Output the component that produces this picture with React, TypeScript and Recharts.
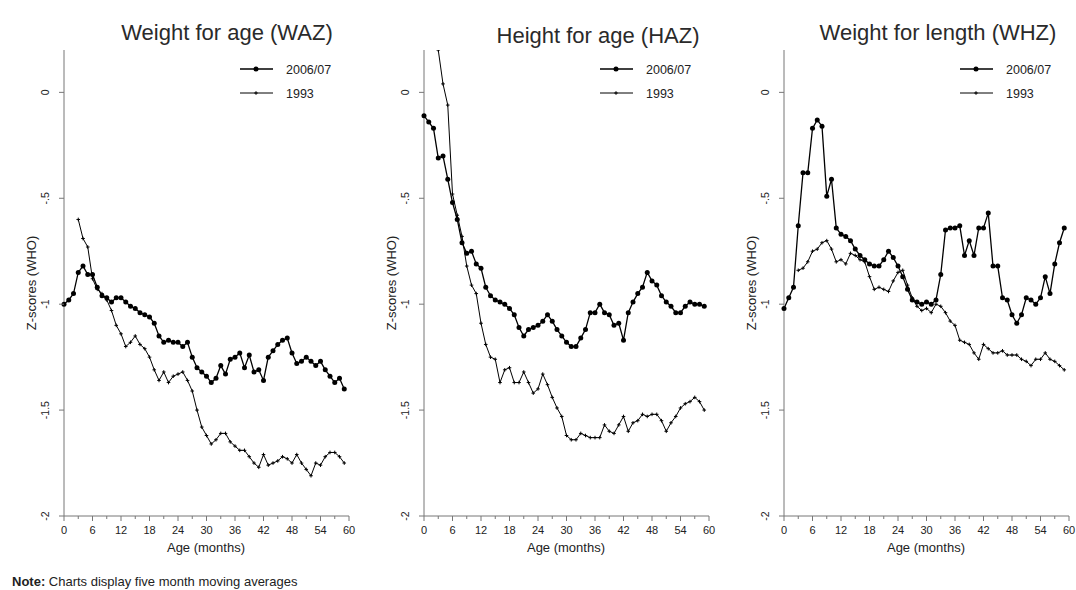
import React from 'react'
import { LineChart, Line, XAxis, YAxis } from 'recharts'

// age in months
const AGES = [
  0, 1, 2, 3, 4, 5, 6, 7, 8, 9, 10, 11, 12, 13, 14, 15, 16, 17, 18, 19,
  20, 21, 22, 23, 24, 25, 26, 27, 28, 29, 30, 31, 32, 33, 34, 35, 36, 37, 38, 39,
  40, 41, 42, 43, 44, 45, 46, 47, 48, 49, 50, 51, 52, 53, 54, 55, 56, 57, 58, 59,
]

const WAZ_2006 = [
  -1.0, -0.98, -0.95, -0.85, -0.82, -0.86, -0.86, -0.92, -0.96, -0.97,
  -0.99, -0.97, -0.97, -0.99, -1.01, -1.02, -1.04, -1.05, -1.06, -1.09,
  -1.15, -1.18, -1.17, -1.18, -1.18, -1.2, -1.18, -1.25, -1.3, -1.32,
  -1.34, -1.37, -1.35, -1.29, -1.33, -1.26, -1.25, -1.23, -1.3, -1.24,
  -1.32, -1.31, -1.36, -1.25, -1.22, -1.19, -1.17, -1.16, -1.23, -1.28,
  -1.27, -1.25, -1.27, -1.29, -1.27, -1.31, -1.34, -1.37, -1.35, -1.4,
]
const WAZ_1993 = [
  null, null, null, -0.6, -0.69, -0.73, -0.88, -0.93, -0.95, -0.98,
  -1.03, -1.1, -1.14, -1.2, -1.18, -1.15, -1.19, -1.21, -1.25, -1.31,
  -1.36, -1.32, -1.37, -1.34, -1.33, -1.32, -1.36, -1.41, -1.5, -1.58,
  -1.62, -1.66, -1.64, -1.61, -1.61, -1.65, -1.67, -1.69, -1.69, -1.72,
  -1.75, -1.77, -1.71, -1.76, -1.75, -1.74, -1.72, -1.73, -1.75, -1.71,
  -1.75, -1.78, -1.81, -1.75, -1.76, -1.72, -1.7, -1.7, -1.72, -1.75,
]

const HAZ_2006 = [
  -0.11, -0.14, -0.17, -0.31, -0.3, -0.41, -0.52, -0.6, -0.71, -0.76,
  -0.75, -0.81, -0.83, -0.92, -0.96, -0.98, -0.99, -1.0, -1.02, -1.05,
  -1.11, -1.15, -1.12, -1.11, -1.1, -1.08, -1.05, -1.08, -1.12, -1.15,
  -1.18, -1.2, -1.2, -1.16, -1.12, -1.04, -1.04, -1.0, -1.04, -1.05,
  -1.1, -1.09, -1.17, -1.04, -0.99, -0.95, -0.92, -0.85, -0.89, -0.91,
  -0.96, -0.99, -1.01, -1.04, -1.04, -1.01, -0.99, -1.0, -1.0, -1.01,
]
const HAZ_1993 = [
  null, null, null, 0.2, 0.04, -0.06, -0.48, -0.58, -0.68, -0.82,
  -0.91, -0.95, -1.09, -1.19, -1.25, -1.26, -1.37, -1.31, -1.3, -1.37,
  -1.37, -1.32, -1.37, -1.42, -1.4, -1.33, -1.38, -1.44, -1.49, -1.53,
  -1.62, -1.64, -1.64, -1.61, -1.62, -1.63, -1.63, -1.63, -1.57, -1.6,
  -1.61, -1.57, -1.53, -1.6, -1.56, -1.55, -1.52, -1.53, -1.52, -1.52,
  -1.55, -1.6, -1.56, -1.53, -1.49, -1.47, -1.46, -1.44, -1.46, -1.5,
]

const WHZ_2006 = [
  -1.02, -0.97, -0.92, -0.63, -0.38, -0.38, -0.17, -0.13, -0.16, -0.49,
  -0.41, -0.64, -0.67, -0.68, -0.7, -0.74, -0.77, -0.79, -0.81, -0.82,
  -0.82, -0.79, -0.75, -0.78, -0.82, -0.87, -0.93, -0.98, -0.99, -1.0,
  -0.99, -1.0, -0.98, -0.86, -0.65, -0.64, -0.64, -0.63, -0.77, -0.7,
  -0.77, -0.64, -0.64, -0.57, -0.82, -0.82, -0.97, -0.98, -1.05, -1.09,
  -1.05, -0.97, -0.98, -1.0, -0.97, -0.87, -0.95, -0.81, -0.71, -0.64,
]
const WHZ_1993 = [
  null, null, null, -0.84, -0.83, -0.8, -0.75, -0.74, -0.71, -0.7,
  -0.74, -0.8, -0.79, -0.81, -0.76, -0.77, -0.79, -0.8, -0.87, -0.93,
  -0.92, -0.93, -0.94, -0.89, -0.85, -0.84, -0.91, -0.97, -1.01, -1.03,
  -1.02, -1.04, -1.0, -1.01, -1.04, -1.08, -1.1, -1.17, -1.18, -1.19,
  -1.23, -1.26, -1.19, -1.21, -1.23, -1.23, -1.22, -1.24, -1.24, -1.24,
  -1.26, -1.27, -1.29, -1.26, -1.26, -1.23, -1.26, -1.27, -1.29, -1.31,
]

const X_TICKS = [0, 3, 6, 9, 12, 15, 18, 21, 24, 27, 30, 33, 36, 39, 42, 45, 48, 51, 54, 57, 60]
const Y_TICKS = [-2, -1.5, -1, -0.5, 0]
const Y_TICK_TEXT: Record<string, string> = { '0': '0', '-0.5': '-.5', '-1': '-1', '-1.5': '-1.5', '-2': '-2' }
const SERIES_NAMES = ['2006/07', '1993']

const panels = [
  { title: 'Weight for age (WAZ)', recent: WAZ_2006, old: WAZ_1993, left: 0, titleX: 227, titleY: 40 },
  { title: 'Height for age (HAZ)', recent: HAZ_2006, old: HAZ_1993, left: 360, titleX: 598, titleY: 43 },
  { title: 'Weight for length (WHZ)', recent: WHZ_2006, old: WHZ_1993, left: 720, titleX: 938, titleY: 40 },
]

const AXIS = '#777'

function XTick(props: any) {
  const { x, y, payload } = props
  const major = payload.value % 6 === 0
  return (
    <g>
      <line x1={x} x2={x} y1={y} y2={y + (major ? 5 : 3)} stroke={AXIS} />
      {major && (
        <text x={x} y={y + 18} textAnchor="middle" fontSize={11} fill="#222">
          {payload.value}
        </text>
      )}
    </g>
  )
}

function YTick(props: any) {
  const { x, y, payload } = props
  return (
    <g>
      <line x1={x - 5} x2={x} y1={y} y2={y} stroke={AXIS} />
      <text
        transform={`translate(${x - 15},${y}) rotate(-90)`}
        textAnchor="middle"
        fontSize={10.5}
        fill="#222"
      >
        {Y_TICK_TEXT[String(payload.value)]}
      </text>
    </g>
  )
}

function RoundDot(props: any) {
  const { cx, cy } = props
  if (cx == null || cy == null) return <g />
  return <circle cx={cx} cy={cy} r={2.5} fill="#000" />
}

function PlusDot(props: any) {
  const { cx, cy } = props
  if (cx == null || cy == null) return <g />
  return <path d={`M${cx - 1.8},${cy}h3.6M${cx},${cy - 1.8}v3.6`} stroke="#000" strokeWidth={1} />
}

function Panel({ p }: { p: (typeof panels)[number] }) {
  const rows = AGES.map((age, i) => ({ age, recent: p.recent[i], old: p.old[i] }))
  const ax = p.left + 64
  return (
    <>
      <div style={{ position: 'absolute', left: p.left, top: 0 }}>
        <LineChart width={360} height={560} data={rows} margin={{ top: 50, right: 11, bottom: 14, left: 0 }}>
          <XAxis
            type="number"
            dataKey="age"
            domain={[0, 60]}
            ticks={X_TICKS}
            interval={0}
            tick={XTick}
            tickLine={false}
            tickSize={0}
            tickMargin={0}
            height={30}
            axisLine={{ stroke: AXIS }}
          />
          <YAxis
            type="number"
            domain={[-2, 0.2]}
            ticks={Y_TICKS}
            interval={0}
            tick={YTick}
            tickLine={false}
            tickSize={0}
            tickMargin={0}
            width={64}
            allowDataOverflow
            axisLine={{ stroke: AXIS }}
          />
          <Line
            dataKey="old"
            type="linear"
            stroke="#000"
            strokeWidth={1}
            dot={PlusDot}
            isAnimationActive={false}
          />
          <Line
            dataKey="recent"
            type="linear"
            stroke="#000"
            strokeWidth={1.3}
            dot={RoundDot}
            isAnimationActive={false}
          />
        </LineChart>
      </div>
      <svg
        width={1076}
        height={590}
        style={{ position: 'absolute', left: 0, top: 0, pointerEvents: 'none' }}
      >
        <text x={p.titleX} y={p.titleY} textAnchor="middle" fontSize={22} fill="#2a2a2a">
          {p.title}
        </text>
        <line x1={ax + 176} x2={ax + 209} y1={69} y2={69} stroke="#000" strokeWidth={1.3} />
        <circle cx={ax + 192} cy={69} r={2.5} fill="#000" />
        <text x={ax + 222} y={73.5} fontSize={12.5} fill="#222">{SERIES_NAMES[0]}</text>
        <line x1={ax + 176} x2={ax + 209} y1={93} y2={93} stroke="#000" strokeWidth={1} />
        <path d={`M${ax + 190.2},93h3.6M${ax + 192},91.2v3.6`} stroke="#000" />
        <text x={ax + 222} y={97.5} fontSize={12.5} fill="#222">{SERIES_NAMES[1]}</text>
        <text
          transform={`translate(${ax - 28},283) rotate(-90)`}
          textAnchor="middle"
          fontSize={13}
          fill="#222"
        >
          Z-scores (WHO)
        </text>
        <text x={ax + 142} y={552} textAnchor="middle" fontSize={13} fill="#222">
          Age (months)
        </text>
      </svg>
    </>
  )
}

export default function App() {
  return (
    <div
      style={{
        position: 'absolute',
        left: 0,
        top: 0,
        width: 1076,
        height: 590,
        background: '#fff',
        fontFamily: '"Liberation Sans", Arial, sans-serif',
        overflow: 'hidden',
      }}
    >
      {panels.map((p) => (
        <Panel key={p.title} p={p} />
      ))}
      <svg width={1076} height={590} style={{ position: 'absolute', left: 0, top: 0 }}>
        <text x={12} y={586} fontSize={13} fill="#222">
          <tspan fontWeight="bold">Note:</tspan> Charts display five month moving averages
        </text>
      </svg>
    </div>
  )
}
